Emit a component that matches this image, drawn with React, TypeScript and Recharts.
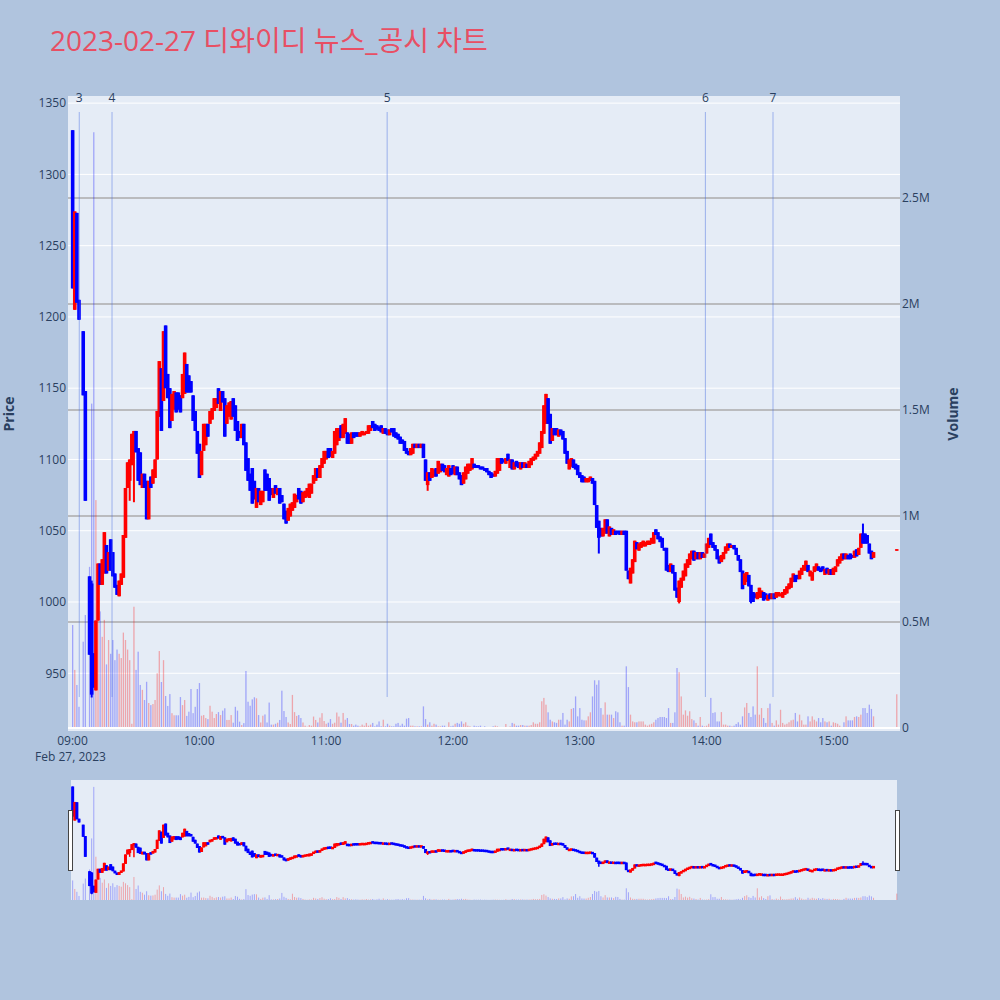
import React from 'react';
import { ComposedChart, Bar, XAxis, YAxis, CartesianGrid, ReferenceLine } from 'recharts';

// ---------- data ----------
const earlyMinutes = [0, 1, 2, 3, 5, 6, 8, 9];
const firstRegularMinute = 10;
const lastRegularMinute = 379;
const closingAuctionMinute = 390;

const opens = [
  1331, 1205, 1273, 1212, 1190, 1148, 1018, 1013,
  964, 938, 987, 1027, 1012, 1020, 1040, 1022, 1044, 1035,
  1020, 1012, 1004, 1012, 1017, 1045, 1080, 1085, 1096, 1115,
  1120, 1108, 1105, 1080, 1090, 1085, 1058, 1088, 1083, 1087,
  1100, 1130, 1164, 1141, 1194, 1160, 1150, 1127, 1135, 1147,
  1147, 1145, 1143, 1146, 1167, 1159, 1155, 1145, 1134, 1120,
  1111, 1089, 1106, 1110, 1125, 1125, 1128, 1134, 1136, 1150,
  1134, 1148, 1143, 1125, 1130, 1128, 1143, 1138, 1127, 1120,
  1115, 1125, 1112, 1101, 1090, 1094, 1085, 1066, 1080, 1068,
  1070, 1093, 1090, 1087, 1080, 1073, 1082, 1075, 1080, 1075,
  1069, 1064, 1057, 1060, 1064, 1066, 1070, 1080, 1078, 1070,
  1073, 1074, 1073, 1076, 1083, 1085, 1094, 1087, 1094, 1097,
  1100, 1108, 1108, 1101, 1104, 1110, 1113, 1124, 1115, 1118,
  1119, 1118, 1111, 1119, 1119, 1119, 1116, 1117, 1117, 1118,
  1118, 1120, 1127, 1125, 1124, 1123, 1124, 1118, 1122, 1121,
  1117, 1122, 1122, 1119, 1118, 1116, 1114, 1113, 1108, 1106,
  1103, 1104, 1111, 1108, 1111, 1108, 1111, 1100, 1082, 1091,
  1087, 1088, 1094, 1090, 1091, 1097, 1096, 1089, 1088, 1094,
  1096, 1089, 1095, 1091, 1089, 1083, 1086, 1090, 1092, 1093,
  1097, 1096, 1096, 1095, 1095, 1094, 1094, 1092, 1091, 1090,
  1088, 1090, 1092, 1101, 1100, 1097, 1104, 1094, 1100, 1093,
  1099, 1098, 1093, 1098, 1094, 1097, 1094, 1096, 1099, 1100,
  1102, 1104, 1108, 1118, 1125, 1143, 1132, 1113, 1122, 1122,
  1116, 1121, 1120, 1115, 1106, 1093, 1095, 1100, 1097, 1096,
  1091, 1089, 1088, 1084, 1084, 1085, 1087, 1085, 1068, 1057,
  1052, 1046, 1048, 1058, 1046, 1052, 1047, 1050, 1050, 1050,
  1047, 1050, 1050, 1022, 1013, 1020, 1028, 1042, 1036, 1038,
  1039, 1039, 1040, 1040, 1041, 1041, 1051, 1049, 1046, 1045,
  1038, 1038, 1026, 1021, 1026, 1021, 1010, 1000, 1010, 1015,
  1018, 1024, 1026, 1030, 1036, 1030, 1035, 1030, 1035, 1031,
  1034, 1038, 1048, 1042, 1040, 1037, 1032, 1028, 1030, 1034,
  1036, 1041, 1038, 1040, 1038, 1033, 1030, 1022, 1012, 1014,
  1019, 1012, 1007, 1006, 1002, 1003, 1003, 1007, 1006, 1001,
  1006, 1002, 1006, 1003, 1004, 1004, 1003, 1005, 1006, 1009,
  1010, 1014, 1019, 1019, 1016, 1019, 1022, 1022, 1026, 1018,
  1015, 1021, 1022, 1025, 1024, 1025, 1019, 1024, 1019, 1023,
  1019, 1021, 1025, 1027, 1029, 1034, 1030, 1033, 1034, 1033,
  1031, 1037, 1033, 1038, 1048, 1048, 1047, 1041, 1036, 1031,
  1036,
];

const closes = [
  1220, 1274, 1210, 1198, 1145, 1071, 963, 935,
  940, 987, 1027, 1012, 1030, 1049, 1020, 1035, 1022, 1018,
  1010, 1005, 1015, 1020, 1047, 1080, 1098, 1100, 1118, 1120,
  1105, 1085, 1082, 1090, 1080, 1058, 1085, 1080, 1093, 1100,
  1134, 1169, 1120, 1190, 1150, 1143, 1122, 1146, 1148, 1133,
  1135, 1133, 1160, 1175, 1147, 1147, 1147, 1127, 1120, 1104,
  1087, 1106, 1125, 1125, 1116, 1134, 1136, 1143, 1143, 1139,
  1148, 1140, 1116, 1138, 1140, 1141, 1130, 1120, 1113, 1115,
  1125, 1110, 1092, 1085, 1078, 1069, 1072, 1080, 1070, 1078,
  1078, 1078, 1078, 1071, 1075, 1080, 1076, 1080, 1069, 1070,
  1058, 1055, 1066, 1069, 1070, 1076, 1075, 1072, 1069, 1077,
  1078, 1080, 1083, 1083, 1089, 1094, 1087, 1096, 1101, 1106,
  1106, 1101, 1102, 1106, 1120, 1122, 1122, 1115, 1125, 1129,
  1111, 1111, 1119, 1115, 1116, 1116, 1119, 1120, 1119, 1120,
  1124, 1124, 1122, 1120, 1121, 1120, 1119, 1122, 1118, 1117,
  1121, 1119, 1116, 1115, 1114, 1111, 1111, 1106, 1104, 1103,
  1108, 1111, 1108, 1111, 1108, 1111, 1101, 1085, 1091, 1085,
  1094, 1093, 1088, 1099, 1097, 1092, 1091, 1094, 1096, 1089,
  1090, 1095, 1089, 1086, 1082, 1091, 1095, 1097, 1097, 1101,
  1094, 1094, 1094, 1093, 1093, 1092, 1091, 1089, 1087, 1088,
  1092, 1101, 1101, 1097, 1098, 1101, 1099, 1100, 1093, 1098,
  1095, 1094, 1098, 1094, 1098, 1094, 1099, 1101, 1102, 1104,
  1106, 1112, 1120, 1138, 1146, 1125, 1111, 1122, 1117, 1117,
  1121, 1117, 1114, 1104, 1097, 1100, 1101, 1094, 1093, 1089,
  1087, 1084, 1084, 1087, 1087, 1088, 1083, 1068, 1052, 1045,
  1046, 1052, 1058, 1048, 1053, 1047, 1051, 1047, 1048, 1047,
  1050, 1047, 1022, 1016, 1024, 1030, 1043, 1037, 1041, 1042,
  1043, 1042, 1043, 1043, 1045, 1049, 1047, 1044, 1042, 1038,
  1036, 1022, 1021, 1027, 1020, 1008, 1003, 1015, 1017, 1022,
  1027, 1030, 1034, 1036, 1029, 1035, 1030, 1035, 1031, 1034,
  1041, 1045, 1040, 1038, 1036, 1030, 1027, 1033, 1035, 1039,
  1041, 1038, 1040, 1037, 1033, 1029, 1021, 1009, 1020, 1021,
  1011, 1000, 1000, 1003, 1007, 1010, 1008, 1001, 1002, 1005,
  1002, 1006, 1002, 1007, 1007, 1006, 1007, 1009, 1011, 1013,
  1017, 1020, 1014, 1016, 1022, 1024, 1026, 1029, 1021, 1022,
  1021, 1025, 1027, 1022, 1021, 1022, 1023, 1020, 1023, 1019,
  1024, 1025, 1030, 1032, 1034, 1030, 1034, 1030, 1030, 1031,
  1036, 1032, 1038, 1048, 1041, 1041, 1041, 1034, 1030, 1035,
  1037,
];

// [minute, high, low] for candles whose wick extends past the body
const wicks = [
  [9, 1015, 933],
  [27, 1100, 1071],
  [29, 1120, 1070],
  [168, 1091, 1078],
  [249, 1057, 1034],
  [287, 1015, 999],
  [321, 1012, 999],
  [374, 1055, 1041],
];

// volume in thousands of shares
const volumesK = [
  486, 274, 203, 100, 407, 533, 760, 1530,
  2810, 1075, 510, 550, 430, 510, 300, 415, 350, 415,
  320, 370, 350, 330, 450, 415, 370, 320, 20, 572,
  274, 360, 203, 180, 132, 218, 118, 108, 113, 132,
  258, 363, 217, 320, 151, 104, 160, 70, 60, 60,
  60, 146, 108, 132, 57, 77, 184, 70, 100, 184,
  212, 58, 61, 47, 42, 105, 77, 47, 66, 75,
  61, 82, 93, 38, 38, 61, 25, 100, 82, 30,
  14, 23, 269, 124, 105, 135, 145, 140, 61, 26,
  58, 64, 26, 120, 16, 16, 20, 25, 38, 176,
  80, 52, 26, 19, 156, 75, 57, 61, 47, 26,
  11, 6, 14, 11, 54, 38, 26, 49, 70, 33,
  20, 25, 42, 20, 25, 73, 54, 25, 71, 39,
  47, 19, 19, 11, 16, 11, 8, 16, 11, 24,
  11, 16, 24, 8, 16, 31, 8, 39, 8, 20,
  11, 8, 8, 20, 24, 11, 20, 11, 44, 47,
  11, 11, 8, 8, 8, 8, 102, 42, 16, 27,
  11, 20, 16, 8, 8, 11, 11, 5, 27, 8,
  11, 20, 24, 20, 31, 20, 27, 11, 8, 3,
  11, 8, 8, 11, 5, 8, 5, 3, 5, 8,
  11, 8, 5, 3, 5, 19, 5, 8, 24, 20,
  11, 11, 14, 14, 11, 11, 11, 14, 27, 20,
  20, 27, 126, 142, 110, 74, 39, 31, 27, 24,
  39, 39, 71, 16, 39, 31, 90, 94, 149, 55,
  94, 39, 36, 36, 55, 74, 149, 225, 204, 225,
  94, 63, 121, 63, 63, 63, 47, 79, 74, 27,
  11, 11, 291, 193, 63, 31, 27, 27, 31, 31,
  31, 16, 11, 16, 20, 27, 39, 47, 52, 52,
  52, 47, 94, 24, 24, 74, 283, 263, 149, 63,
  83, 58, 79, 42, 36, 24, 11, 52, 11, 8,
  11, 20, 142, 71, 74, 31, 31, 75, 16, 16,
  11, 11, 8, 11, 19, 27, 16, 55, 97, 118,
  71, 52, 102, 63, 291, 63, 94, 47, 24, 94,
  115, 24, 11, 36, 16, 86, 24, 16, 20, 27,
  36, 39, 71, 31, 63, 36, 16, 16, 55, 31,
  55, 39, 31, 47, 27, 47, 31, 27, 31, 11,
  27, 24, 20, 11, 5, 27, 55, 36, 36, 36,
  52, 55, 52, 63, 94, 94, 71, 110, 90, 55,
  159,
];

const hourTicks = [0, 60, 120, 180, 240, 300, 360];
const hourLabels = ['09:00', '10:00', '11:00', '12:00', '13:00', '14:00', '15:00'];
const dateLabel = 'Feb 27, 2023';
const priceTicks = [950, 1000, 1050, 1100, 1150, 1200, 1250, 1300, 1350];
const volumeTicksK = [0, 500, 1000, 1500, 2000, 2500];
const volumeTickLabels = ['0', '0.5M', '1M', '1.5M', '2M', '2.5M'];
const newsMinutes = [3.2, 18.7, 148.9, 299.5, 331.5];
const newsLabels = ['3', '4', '5', '6', '7'];

const TITLE = '2023-02-27 디와이디 뉴스_공시 차트';

// ---------- assembled table ----------
const minutes: number[] = [...earlyMinutes];
for (let m = firstRegularMinute; m <= lastRegularMinute; m++) minutes.push(m);
minutes.push(closingAuctionMinute);

const wickMap = new Map<number, number[]>(wicks.map((w) => [w[0], w]));
const candles = minutes.map((t, i) => {
  const o = opens[i];
  const c = closes[i];
  const w = wickMap.get(t);
  return {
    t,
    o,
    c,
    h: w ? Math.max(w[1], o, c) : Math.max(o, c),
    l: w ? Math.min(w[2], o, c) : Math.min(o, c),
    v: volumesK[i],
  };
});

// ---------- styling ----------
const FONT = "'Open Sans', verdana, arial, sans-serif";
const AXIS_COLOR = '#2a3f5f';
const UP = '#FF0000';
const DOWN = '#0000FF';
const X_DOMAIN: [number, number] = [-2.13, 391.6];
const PRICE_DOMAIN: [number, number] = [911.6, 1355];
const VOL_DOMAIN: [number, number] = [0, 2981];

const makeCandleShape = (bodyWidth: number, wickWidth: number, minBody: number) => (props: any) => {
  const { x, y, width, height, payload } = props;
  if (!payload || height == null || isNaN(height)) return <g />;
  const { o, c, h, l } = payload;
  const color = c >= o ? UP : DOWN;
  const k = h > l ? height / (h - l) : 0;
  const yTop = y + (h - Math.max(o, c)) * k;
  const yBot = y + (h - Math.min(o, c)) * k;
  const cx = x + width / 2;
  const bodyH = Math.max(yBot - yTop, minBody);
  const bodyY = (yTop + yBot) / 2 - bodyH / 2;
  return (
    <g>
      <line x1={cx} x2={cx} y1={y} y2={y + height} stroke={color} strokeWidth={wickWidth} />
      <rect x={cx - bodyWidth / 2} y={bodyY} width={bodyWidth} height={bodyH} fill={color} />
    </g>
  );
};

const makeVolumeShape = (barWidth: number) => (props: any) => {
  const { x, y, width, height, payload } = props;
  if (!payload || !height || height <= 0) return <g />;
  const color = payload.c >= payload.o ? UP : DOWN;
  const cx = x + width / 2;
  return <rect x={cx - barWidth / 2} y={y} width={barWidth} height={height} fill={color} fillOpacity={0.3} />;
};

const TimeTick = (props: any) => {
  const { x, y, payload } = props;
  const idx = hourTicks.indexOf(payload.value);
  return (
    <g>
      <text x={x} y={y + 17} textAnchor="middle" fill={AXIS_COLOR} fontSize={12} fontFamily={FONT}>
        {hourLabels[idx]}
      </text>
      {idx === 0 && (
        <text x={x - 2} y={y + 33} textAnchor="middle" fill={AXIS_COLOR} fontSize={12} fontFamily={FONT}>
          {dateLabel}
        </text>
      )}
    </g>
  );
};

const makeNewsMarker = (label: string) => (props: any) => {
  const top = Math.min(props.y1, props.y2);
  const bottom = Math.max(props.y1, props.y2);
  const x = props.x1;
  return (
    <g>
      <line x1={x} x2={x} y1={top + 16} y2={bottom - 31} stroke="#4169E1" strokeOpacity={0.45} strokeWidth={1} />
      <text x={x} y={top + 5.5} textAnchor="middle" fill={AXIS_COLOR} fontSize={12} fontFamily={FONT}>
        {label}
      </text>
    </g>
  );
};

const MainChart = () => (
  <ComposedChart width={1000} height={780} data={candles} margin={{ top: 96, right: 40, bottom: 22, left: 8 }}>
    <XAxis
      xAxisId="t"
      dataKey="t"
      type="number"
      domain={X_DOMAIN}
      allowDataOverflow
      ticks={hourTicks}
      interval={0}
      tick={(p: any) => <TimeTick {...p} />}
      tickLine={false}
      axisLine={false}
      tickSize={0}
      tickMargin={0}
      height={30}
    />
    <XAxis xAxisId="tv" dataKey="t" type="number" domain={X_DOMAIN} allowDataOverflow hide />
    <YAxis
      yAxisId="price"
      orientation="left"
      domain={PRICE_DOMAIN}
      allowDataOverflow
      ticks={priceTicks}
      interval={0}
      width={60}
      tickLine={false}
      axisLine={false}
      tickSize={0}
      tickMargin={2}
      tick={{ fill: AXIS_COLOR, fontSize: 12, fontFamily: FONT }}
    />
    <YAxis
      yAxisId="vol"
      orientation="right"
      domain={VOL_DOMAIN}
      allowDataOverflow
      ticks={volumeTicksK}
      interval={0}
      width={60}
      tickLine={false}
      axisLine={false}
      tickSize={0}
      tickMargin={2}
      tickFormatter={(v: number) => volumeTickLabels[volumeTicksK.indexOf(v)]}
      tick={{ fill: AXIS_COLOR, fontSize: 12, fontFamily: FONT }}
    />
    <CartesianGrid
      xAxisId="t"
      yAxisId="price"
      vertical={false}
      horizontalValues={priceTicks}
      stroke="#FFFFFF"
      strokeWidth={1}
    />
    <CartesianGrid
      xAxisId="t"
      yAxisId="vol"
      vertical={false}
      horizontalValues={volumeTicksK.slice(1)}
      stroke="#ABABAB"
      strokeWidth={1.5}
    />
    <ReferenceLine xAxisId="t" yAxisId="vol" y={0} stroke="#FFFFFF" strokeWidth={2} />
    <Bar
      xAxisId="tv"
      yAxisId="vol"
      dataKey="v"
      shape={makeVolumeShape(1.3)}
      isAnimationActive={false}
    />
    {newsMinutes.map((m, i) => (
      <ReferenceLine key={'n' + i} xAxisId="t" yAxisId="price" x={m} shape={makeNewsMarker(newsLabels[i])} />
    ))}
    <Bar
      xAxisId="t"
      yAxisId="price"
      dataKey={(d: any) => [d.l, d.h]}
      shape={makeCandleShape(3.6, 2, 1.5)}
      isAnimationActive={false}
    />
  </ComposedChart>
);

const MiniChart = () => (
  <ComposedChart width={1000} height={120} data={candles} margin={{ top: 0, right: 100, bottom: 0, left: 68 }}>
    <XAxis xAxisId="t" dataKey="t" type="number" domain={X_DOMAIN} allowDataOverflow hide />
    <XAxis xAxisId="tv" dataKey="t" type="number" domain={X_DOMAIN} allowDataOverflow hide />
    <YAxis yAxisId="price" domain={PRICE_DOMAIN} allowDataOverflow hide />
    <YAxis yAxisId="vol" domain={VOL_DOMAIN} allowDataOverflow hide />
    <Bar
      xAxisId="tv"
      yAxisId="vol"
      dataKey="v"
      shape={makeVolumeShape(1)}
      isAnimationActive={false}
    />
    <Bar
      xAxisId="t"
      yAxisId="price"
      dataKey={(d: any) => [d.l, d.h]}
      shape={makeCandleShape(3, 1.5, 2.5)}
      isAnimationActive={false}
    />
  </ComposedChart>
);

export default function App() {
  return (
    <div
      style={{
        position: 'absolute',
        left: 0,
        top: 0,
        width: 1000,
        height: 1000,
        background: '#B0C4DE',
        overflow: 'hidden',
        fontFamily: FONT,
      }}
    >
      <div style={{ position: 'absolute', left: 68, top: 96, width: 832, height: 635, background: '#E5ECF6' }} />
      <div style={{ position: 'absolute', left: 0, top: 0 }}>
        <MainChart />
      </div>
      <div style={{ position: 'absolute', left: 71, top: 780, width: 826, height: 120, background: '#E5ECF6' }} />
      <div style={{ position: 'absolute', left: 0, top: 780 }}>
        <MiniChart />
      </div>
      <svg
        width={1000}
        height={1000}
        style={{ position: 'absolute', left: 0, top: 0, pointerEvents: 'none' }}
      >
        <text x={50} y={51} fontSize={28} fill="#E84F64" fontFamily="'Open Sans', 'Noto Sans CJK KR', sans-serif">
          {TITLE}
        </text>
        <text
          x={0}
          y={0}
          transform="translate(14,414) rotate(-90)"
          textAnchor="middle"
          fontSize={14}
          fontWeight="bold"
          fill={AXIS_COLOR}
          fontFamily={FONT}
        >
          Price
        </text>
        <text
          x={0}
          y={0}
          transform="translate(958,414) rotate(-90)"
          textAnchor="middle"
          fontSize={14}
          fontWeight="bold"
          fill={AXIS_COLOR}
          fontFamily={FONT}
        >
          Volume
        </text>
        <rect x={68.5} y={810.5} width={4} height={60} fill="#FFFFFF" stroke="#444444" strokeWidth={1} />
        <rect x={895.5} y={810.5} width={4} height={60} fill="#FFFFFF" stroke="#444444" strokeWidth={1} />
      </svg>
    </div>
  );
}
